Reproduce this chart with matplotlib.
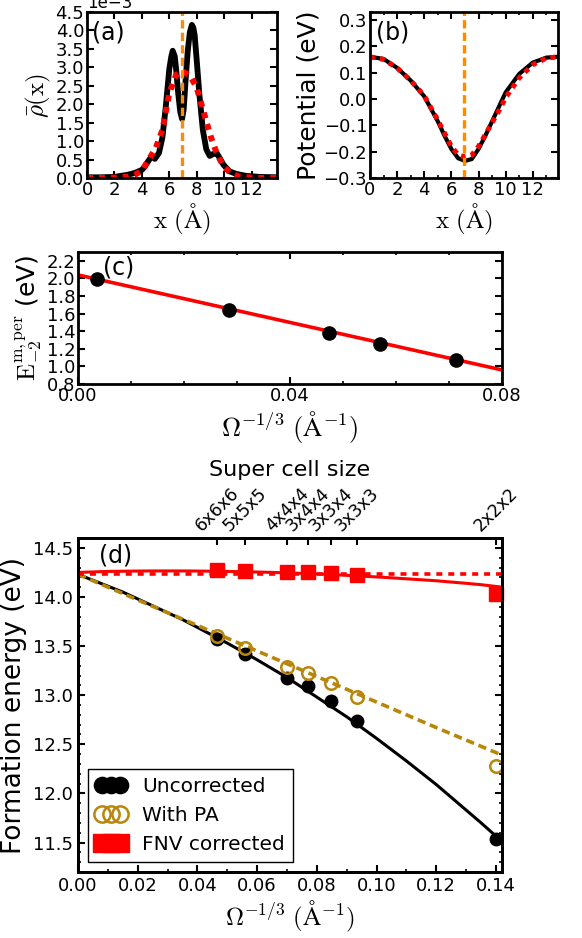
import matplotlib
matplotlib.use('Agg')
import matplotlib.pyplot as plt
import numpy as np
from matplotlib.ticker import MultipleLocator

# (a) planar averaged charge density, in units of 1e-3
x_rho = [0, 1, 2, 2.5, 3, 3.5, 4, 4.2, 4.45, 4.7, 4.95, 5.25, 5.5, 5.75, 6.0, 6.15,
         6.25, 6.4, 6.5, 6.65, 6.8, 6.93, 7.05, 7.2, 7.35, 7.5, 7.65, 7.75, 7.85, 8.0,
         8.2, 8.45, 8.7, 8.95, 9.2, 9.45, 9.7, 9.95, 10.4, 10.9, 11.6, 12.6, 13.86]
rho = [0.02, 0.02, 0.03, 0.06, 0.09, 0.14, 0.22, 0.3, 0.45, 0.58, 0.52, 0.68, 1.1, 1.95, 2.95, 3.3,
       3.45, 3.3, 2.95, 2.3, 1.8, 1.6, 1.85, 2.7, 3.45, 3.95, 4.15, 4.08, 3.88, 3.2,
       2.25, 1.3, 0.78, 0.6, 0.65, 0.68, 0.53, 0.36, 0.18, 0.11, 0.06, 0.03, 0.02]
x_rho_model = [0, 1, 2, 3, 3.5, 4, 4.5, 5, 5.5, 6, 6.5, 6.93, 7.5, 8, 8.5, 9, 9.5,
               10, 10.5, 11, 12, 13, 13.86]
rho_model = [0, 0, 0.01, 0.04, 0.09, 0.2, 0.5, 0.8, 1.3, 2.3, 2.8, 2.9, 2.78, 2.45, 1.8,
             1.15, 0.63, 0.3, 0.13, 0.05, 0.01, 0, 0]
x_center = 6.93

# (b) potential
x_pot = [0, 1, 2, 3, 4, 5, 5.5, 6, 6.5, 7, 7.5, 8, 8.5, 9, 9.5, 10, 11, 12, 13, 13.86]
pot = [0.16, 0.152, 0.118, 0.07, 0.01, -0.085, -0.14, -0.19, -0.225, -0.235, -0.228,
       -0.19, -0.14, -0.085, -0.03, 0.025, 0.095, 0.138, 0.157, 0.16]
pot_model = [0.16, 0.15, 0.118, 0.07, 0.012, -0.08, -0.13, -0.18, -0.212, -0.22, -0.213,
             -0.18, -0.135, -0.09, -0.045, 0.005, 0.08, 0.13, 0.155, 0.16]

# (c)
omega_c = [0.0036, 0.0284, 0.0474, 0.0570, 0.0713]
e_c = [1.99, 1.64, 1.38, 1.25, 1.07]
fit_c_x = [0, 0.02, 0.04, 0.06, 0.08]
fit_c_y = [2.04, 1.77, 1.50, 1.23, 0.96]

# (d)
cells = ['6x6x6', '5x5x5', '4x4x4', '3x4x4', '3x3x4', '3x3x3', '2x2x2']
omega_d = [0.0467, 0.0560, 0.0700, 0.0771, 0.0849, 0.0934, 0.1401]
e_uncorr = [13.57, 13.42, 13.18, 13.09, 12.945, 12.74, 11.54]
e_pa = [13.60, 13.48, 13.29, 13.23, 13.12, 12.98, 12.28]
e_fnv = [14.27, 14.26, 14.25, 14.25, 14.24, 14.22, 14.03]
fit_x = [0, 0.005, 0.01, 0.015, 0.02, 0.025, 0.03, 0.035, 0.04, 0.045, 0.05, 0.055,
         0.06, 0.065, 0.07, 0.075, 0.08, 0.085, 0.09, 0.095, 0.10, 0.105, 0.11, 0.115,
         0.12, 0.125, 0.13, 0.135, 0.142]
fit_uncorr = [14.23, 14.17, 14.11, 14.05, 13.98, 13.91, 13.84, 13.77, 13.69, 13.61,
              13.53, 13.445, 13.36, 13.27, 13.18, 13.08, 12.98, 12.88, 12.78, 12.67,
              12.56, 12.445, 12.33, 12.21, 12.09, 11.96, 11.83, 11.70, 11.51]
fit_fnv = [14.25, 14.255, 14.26, 14.262, 14.264, 14.265, 14.265, 14.265, 14.264, 14.262,
           14.26, 14.257, 14.254, 14.25, 14.245, 14.24, 14.235, 14.228, 14.22, 14.212,
           14.204, 14.195, 14.185, 14.175, 14.165, 14.152, 14.139, 14.125, 14.1]
fit_pa_x = [0, 0.02, 0.04, 0.06, 0.08, 0.10, 0.12, 0.142]
fit_pa = [14.23, 13.97, 13.71, 13.45, 13.19, 12.93, 12.67, 12.39]
e_inf = 14.23

plt.rcParams['mathtext.fontset'] = 'cm'
plt.rcParams['xtick.direction'] = 'in'
plt.rcParams['ytick.direction'] = 'in'
plt.rcParams['xtick.top'] = True
plt.rcParams['ytick.right'] = True
plt.rcParams['xtick.major.size'] = 5
plt.rcParams['ytick.major.size'] = 5
plt.rcParams['xtick.minor.size'] = 2.5
plt.rcParams['ytick.minor.size'] = 2.5
plt.rcParams['xtick.major.width'] = 1.5
plt.rcParams['ytick.major.width'] = 1.5
plt.rcParams['xtick.minor.width'] = 1.2
plt.rcParams['ytick.minor.width'] = 1.2
plt.rcParams['axes.linewidth'] = 2
plt.rcParams['lines.scale_dashes'] = False
plt.rcParams['xtick.labelsize'] = 13
plt.rcParams['ytick.labelsize'] = 13

orange = '#FF8C00'
gold = '#B8860B'

fig = plt.figure(figsize=(5.82, 9.38), dpi=100)

# ---- (a)
ax_a = fig.add_axes([0.1495, 0.8102, 0.3265, 0.177])
ax_a.plot(x_rho, np.array(rho) * 1e-3, color='black', lw=4.2)
ax_a.plot(x_rho_model, np.array(rho_model) * 1e-3, color='red', lw=4.3, dashes=(4.3, 4.3))
ax_a.axvline(x_center, color=orange, lw=2.4, dashes=(6, 3))
ax_a.set_xlim(0, 13.86)
ax_a.set_ylim(0, 4.5e-3)
ax_a.set_xticks([0, 2, 4, 6, 8, 10, 12])
ax_a.yaxis.set_major_locator(MultipleLocator(0.5e-3))
ax_a.ticklabel_format(axis='y', style='sci', scilimits=(0, 0))
ax_a.yaxis.get_offset_text().set_fontsize(12)
ax_a.tick_params(pad=2)
ax_a.set_xlabel(r'$\mathrm{x\ (\AA)}$', fontsize=18, labelpad=2)
ax_a.set_ylabel(r'$\bar{\rho}(\mathrm{x})$', fontsize=18, labelpad=2)
ax_a.text(0.025, 0.95, '(a)', transform=ax_a.transAxes, fontsize=17, va='top')

# ---- (b)
ax_b = fig.add_axes([0.6357, 0.8102, 0.3231, 0.177])
ax_b.plot(x_pot, pot, color='black', lw=3)
ax_b.plot(x_pot, pot_model, color='red', lw=3.6, dashes=(3.6, 3.6))
ax_b.axvline(x_center, color=orange, lw=2.4, dashes=(6, 3))
ax_b.set_xlim(0, 13.86)
ax_b.set_ylim(-0.3, 0.33)
ax_b.set_xticks([0, 2, 4, 6, 8, 10, 12])
ax_b.xaxis.set_minor_locator(MultipleLocator(1))
ax_b.yaxis.set_major_locator(MultipleLocator(0.1))
ax_b.tick_params(pad=2)
ax_b.set_xlabel(r'$\mathrm{x\ (\AA)}$', fontsize=18, labelpad=2)
ax_b.set_ylabel('Potential (eV)', fontsize=18, labelpad=2)
ax_b.text(0.03, 0.95, '(b)', transform=ax_b.transAxes, fontsize=17, va='top')

# ---- (c)
ax_c = fig.add_axes([0.134, 0.5906, 0.7285, 0.1407])
ax_c.plot(fit_c_x, fit_c_y, color='red', lw=2.6)
ax_c.plot(omega_c, e_c, 'o', color='black', ms=9.5)
ax_c.set_xlim(0, 0.08)
ax_c.set_ylim(0.8, 2.3)
ax_c.set_xticks([0, 0.04, 0.08])
ax_c.set_xticklabels(['0.00', '0.04', '0.08'])
ax_c.xaxis.set_minor_locator(MultipleLocator(0.01))
ax_c.set_yticks(np.arange(0.8, 2.21, 0.2))
ax_c.tick_params(pad=2)
ax_c.set_xlabel(r'$\Omega^{-1/3}\ (\mathrm{\AA}^{-1})$', fontsize=19, labelpad=3)
ax_c.set_ylabel(r'$\mathrm{E}_{-2}^{\mathrm{m,per}}$ (eV)', fontsize=18, labelpad=2)
ax_c.text(0.06, 0.97, '(c)', transform=ax_c.transAxes, fontsize=17, va='top')

# ---- (d)
ax_d = fig.add_axes([0.134, 0.0704, 0.7285, 0.356])
ax_d.plot(fit_x, fit_uncorr, color='black', lw=2.2)
ax_d.plot(fit_pa_x, fit_pa, color=gold, lw=2.6, dashes=(6, 3.5))
ax_d.plot(fit_x, fit_fnv, color='red', lw=2.2)
ax_d.axhline(e_inf, color='red', lw=2.6, dashes=(4.3, 4.3))
ax_d.plot(omega_d, e_uncorr, 'o', color='black', ms=9, label='Uncorrected')
ax_d.plot(omega_d, e_pa, 'o', mfc='none', mec=gold, mew=1.8, ms=9, label='With PA')
ax_d.plot(omega_d, e_fnv, 's', color='red', ms=10, label='FNV corrected', clip_on=False)
ax_d.set_xlim(0, 0.142)
ax_d.set_ylim(11.2, 14.6)
ax_d.xaxis.set_major_locator(MultipleLocator(0.02))
ax_d.xaxis.set_minor_locator(MultipleLocator(0.01))
ax_d.yaxis.set_major_locator(MultipleLocator(0.5))
ax_d.yaxis.set_minor_locator(MultipleLocator(0.1))
ax_d.tick_params(which='both', top=False)
ax_d.set_xlabel(r'$\Omega^{-1/3}\ (\mathrm{\AA}^{-1})$', fontsize=18, labelpad=3)
ax_d.set_ylabel('Formation energy (eV)', fontsize=19, labelpad=4)
ax_d.text(0.05, 0.985, '(d)', transform=ax_d.transAxes, fontsize=17, va='top')
ax_d.legend(loc='lower left', numpoints=3, handlelength=1.5, fontsize=14.5,
            markerscale=1.3, fancybox=False, edgecolor='black', framealpha=1)

ax_top = ax_d.twiny()
ax_top.set_xlim(ax_d.get_xlim())
ax_top.set_xticks(omega_d)
ax_top.set_xticklabels(cells, rotation=45, fontsize=12.5)
ax_top.tick_params(direction='in', length=5, width=1.5, pad=2)
ax_top.set_xlabel('Super cell size', fontsize=16, labelpad=6)

fig.savefig('out.png', dpi=100)
